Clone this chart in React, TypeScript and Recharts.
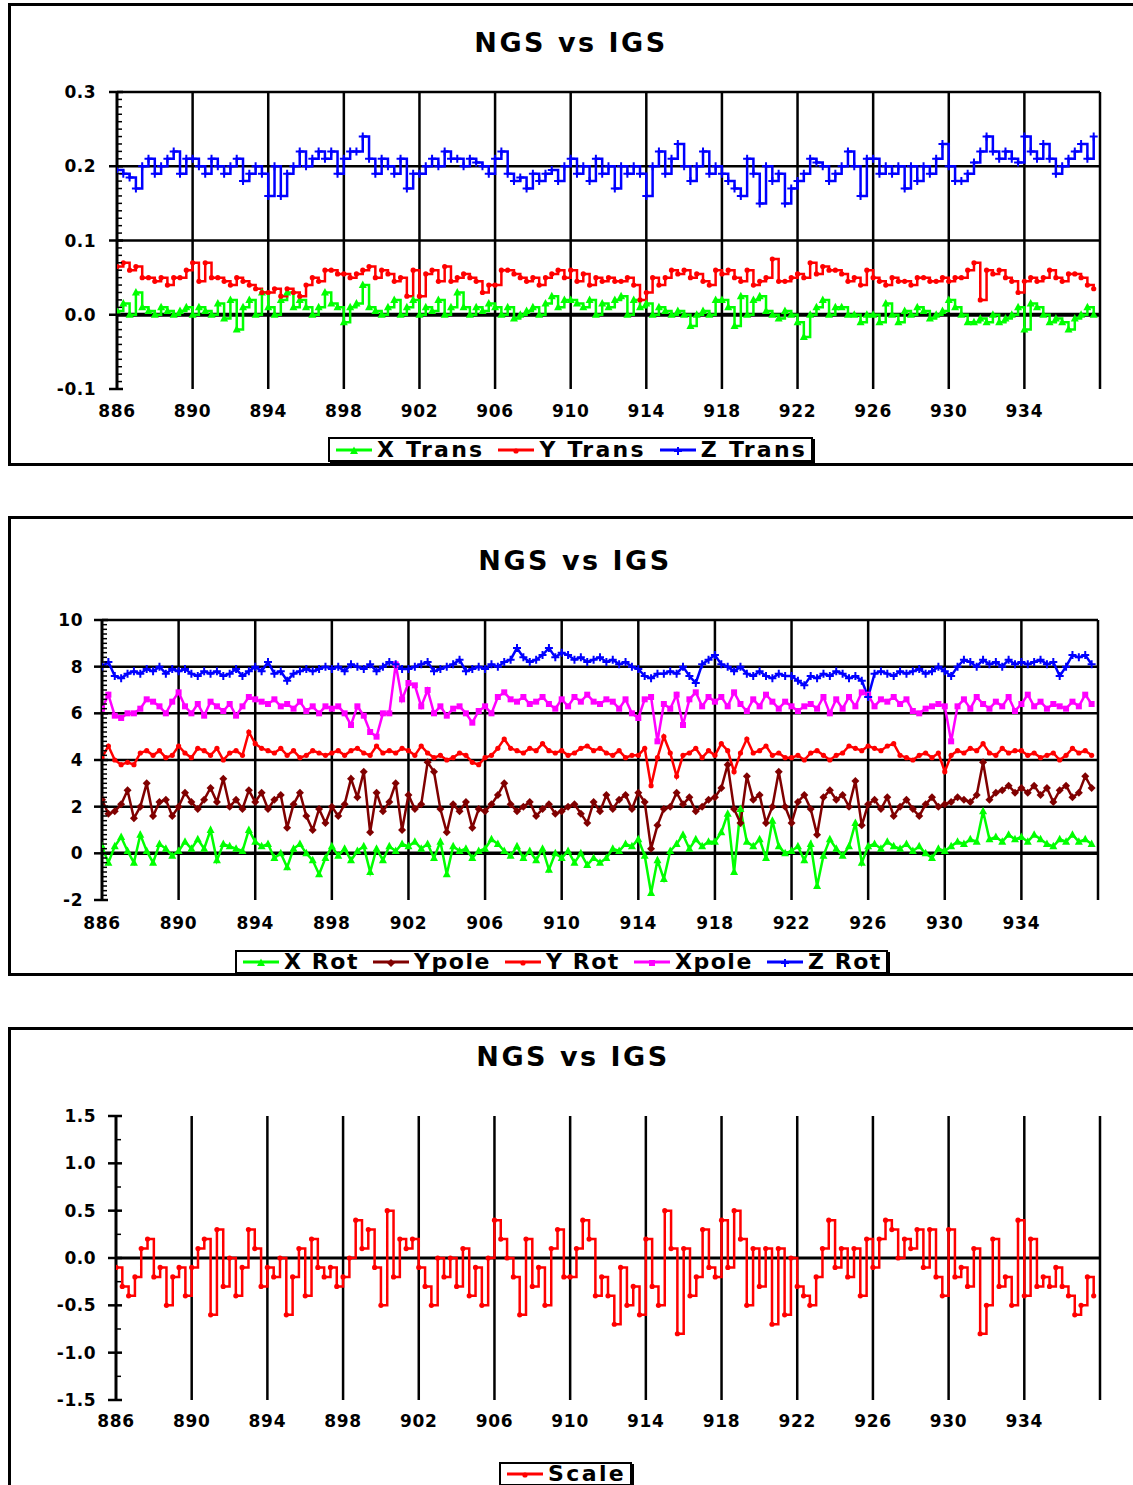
import React from 'react';
import { LineChart, Line, XAxis, YAxis, CartesianGrid, ReferenceLine } from 'recharts';

const FONT = '"DejaVu Sans", Verdana, sans-serif';

// ---------- Panel 1: translations (m) ----------
const xTrans = [
  0.005, 0.015, 0.0, 0.03, 0.01, 0.005, 0.0, 0.01, 0.005, 0.0, 0.005, 0.01,
  0.0, 0.01, 0.005, 0.0, 0.015, -0.005, 0.02, -0.02, 0.01, 0.02, 0.0, 0.03,
  0.01, 0.0, 0.02, 0.03, 0.01, 0.02, 0.01, 0.0, 0.01, 0.03, 0.015, 0.01,
  -0.01, 0.01, 0.015, 0.04, 0.01, 0.005, 0.0, 0.01, 0.02, 0.0, 0.01, 0.02,
  0.0, 0.01, 0.005, 0.02, 0.0, 0.01, 0.03, 0.01, 0.0, 0.01, 0.005, 0.015,
  0.01, 0.0, 0.01, -0.005, 0.0, 0.005, 0.01, 0.0, 0.015, 0.025, 0.01, 0.02,
  0.02, 0.015, 0.01, 0.02, 0.0, 0.015, 0.01, 0.02, 0.025, 0.0, 0.02, 0.01,
  0.015, 0.0, 0.01, 0.005, 0.0, 0.005, 0.0, -0.015, 0.0, 0.005, 0.0, 0.02,
  0.02, 0.01, -0.015, 0.025, 0.0, 0.02, 0.025, 0.005, 0.0, -0.005, 0.005, 0.0,
  -0.01, -0.03, 0.0, 0.01, 0.02, 0.0, 0.01, 0.01, 0.0, 0.0, -0.01, 0.0,
  0.0, -0.01, 0.015, 0.0, -0.01, 0.005, 0.0, 0.01, 0.005, -0.005, 0.0, 0.005,
  0.02, 0.01, 0.0, -0.01, -0.01, -0.005, -0.01, 0.0, -0.01, -0.005, 0.0, 0.01,
  -0.02, 0.015, 0.01, 0.0, -0.01, -0.005, -0.01, -0.02, -0.005, 0.0, 0.01, 0.0,
];
const yTrans = [
  0.065, 0.07, 0.06, 0.065, 0.05, 0.05, 0.045, 0.05, 0.04, 0.05, 0.05, 0.06,
  0.07, 0.045, 0.07, 0.05, 0.05, 0.045, 0.04, 0.05, 0.045, 0.04, 0.035, 0.03,
  0.03, 0.035, 0.025, 0.035, 0.03, 0.025, 0.04, 0.05, 0.045, 0.06, 0.06, 0.055,
  0.055, 0.05, 0.055, 0.06, 0.065, 0.05, 0.06, 0.055, 0.045, 0.05, 0.025, 0.06,
  0.025, 0.055, 0.06, 0.045, 0.065, 0.045, 0.05, 0.055, 0.05, 0.045, 0.03, 0.04,
  0.04, 0.06, 0.06, 0.055, 0.05, 0.045, 0.05, 0.04, 0.05, 0.055, 0.06, 0.05,
  0.06, 0.045, 0.055, 0.04, 0.05, 0.045, 0.05, 0.045, 0.045, 0.05, 0.04, 0.02,
  0.03, 0.05, 0.04, 0.05, 0.06, 0.055, 0.06, 0.05, 0.055, 0.045, 0.04, 0.06,
  0.055, 0.06, 0.05, 0.045, 0.06, 0.04, 0.045, 0.05, 0.075, 0.045, 0.045, 0.05,
  0.055, 0.05, 0.07, 0.055, 0.065, 0.06, 0.06, 0.055, 0.045, 0.05, 0.04, 0.06,
  0.05, 0.045, 0.04, 0.05, 0.045, 0.045, 0.04, 0.05, 0.05, 0.045, 0.045, 0.05,
  0.045, 0.05, 0.05, 0.06, 0.07, 0.02, 0.06, 0.055, 0.06, 0.05, 0.045, 0.03,
  0.045, 0.05, 0.045, 0.05, 0.06, 0.05, 0.045, 0.055, 0.055, 0.05, 0.04, 0.035,
];
const zTrans = [
  0.195, 0.19, 0.185, 0.17, 0.20, 0.21, 0.19, 0.20, 0.21, 0.22, 0.19, 0.21,
  0.21, 0.20, 0.19, 0.21, 0.20, 0.19, 0.20, 0.21, 0.18, 0.19, 0.20, 0.19,
  0.16, 0.20, 0.16, 0.19, 0.20, 0.22, 0.20, 0.21, 0.22, 0.21, 0.22, 0.19,
  0.21, 0.22, 0.22, 0.24, 0.21, 0.19, 0.21, 0.20, 0.19, 0.21, 0.17, 0.19,
  0.19, 0.20, 0.21, 0.20, 0.22, 0.21, 0.21, 0.20, 0.21, 0.205, 0.20, 0.19,
  0.21, 0.22, 0.19, 0.18, 0.185, 0.17, 0.19, 0.18, 0.19, 0.195, 0.18, 0.20,
  0.21, 0.19, 0.20, 0.18, 0.21, 0.19, 0.20, 0.17, 0.20, 0.19, 0.20, 0.19,
  0.16, 0.20, 0.22, 0.19, 0.21, 0.23, 0.20, 0.18, 0.20, 0.22, 0.19, 0.20,
  0.19, 0.18, 0.17, 0.16, 0.21, 0.19, 0.15, 0.20, 0.18, 0.19, 0.15, 0.17,
  0.18, 0.19, 0.21, 0.205, 0.20, 0.18, 0.19, 0.20, 0.22, 0.20, 0.16, 0.21,
  0.21, 0.19, 0.20, 0.19, 0.20, 0.17, 0.20, 0.18, 0.20, 0.19, 0.21, 0.23,
  0.20, 0.18, 0.18, 0.19, 0.205, 0.22, 0.24, 0.22, 0.21, 0.22, 0.21, 0.205,
  0.24, 0.22, 0.21, 0.23, 0.21, 0.19, 0.20, 0.21, 0.22, 0.23, 0.21, 0.24,
];

// ---------- Panel 2: rotations / pole ----------
const xRot = [
  0.3, -0.4, 0.3, 0.7, 0.1, -0.4, 0.8, 0.1, -0.4, 0.4, 0.2, -0.1,
  0.1, 0.5, 0.2, 0.6, 0.2, 1.0, -0.3, 0.4, 0.3, 0.2, 0.1, 1.0,
  0.5, 0.3, 0.4, -0.2, 0.0, -0.6, 0.2, 0.4, 0.0, -0.3, -0.9, -0.2,
  0.3, -0.1, 0.2, -0.3, 0.1, 0.3, -0.8, 0.2, -0.3, 0.3, 0.1, 0.4,
  0.3, 0.5, 0.2, 0.4, -0.2, 0.5, -0.9, 0.3, 0.1, 0.2, -0.2, 0.1,
  0.2, 0.6, 0.4, 0.1, -0.1, 0.3, -0.2, 0.1, -0.3, 0.2, -0.7, 0.0,
  -0.2, 0.1, -0.4, 0.0, -0.5, -0.2, -0.4, -0.2, 0.2, 0.1, 0.4, 0.3,
  0.6, -0.1, -1.7, -0.3, -1.1, 0.1, 0.4, 0.8, 0.2, 0.6, 0.3, 0.5,
  0.5, 0.9, 1.7, -0.8, 1.9, 0.5, 0.3, 0.6, -0.2, 1.4, 0.3, 0.0,
  0.1, 0.3, -0.3, 0.4, -1.4, -0.1, 0.6, 0.2, -0.1, 0.3, 1.3, -0.4,
  0.3, 0.4, 0.2, 0.5, 0.3, 0.2, 0.4, 0.1, 0.3, 0.0, -0.2, 0.2,
  0.1, 0.3, 0.5, 0.4, 0.6, 0.5, 1.8, 0.6, 0.7, 0.5, 0.8, 0.6,
  0.7, 0.5, 0.8, 0.6, 0.4, 0.3, 0.6, 0.5, 0.8, 0.5, 0.6, 0.4,
];
const yPole = [
  2.3, 1.7, 1.8, 2.1, 2.7, 1.5, 2.0, 3.0, 1.6, 2.2, 2.3, 1.6,
  2.0, 2.6, 2.2, 1.9, 2.3, 2.8, 2.2, 3.2, 2.0, 2.3, 1.9, 2.7,
  2.2, 2.6, 1.9, 2.3, 2.5, 1.1, 2.1, 2.6, 1.6, 1.0, 1.9, 1.3,
  2.0, 1.6, 2.1, 3.2, 2.4, 3.5, 0.9, 2.6, 1.8, 2.2, 3.0, 1.0,
  2.5, 1.9, 2.1, 3.9, 3.5, 1.9, 0.9, 2.1, 1.8, 2.2, 1.1, 1.9,
  1.8, 2.1, 2.5, 3.0, 2.1, 1.8, 2.0, 2.2, 1.6, 1.9, 2.1, 1.7,
  1.8, 2.0, 2.1, 1.7, 1.3, 2.2, 1.8, 2.5, 1.9, 2.3, 2.5, 1.9,
  2.6, 2.2, 0.2, 1.2, 1.9, 2.0, 2.6, 2.1, 2.4, 1.8, 2.0, 2.3,
  2.4, 2.8, 3.8, 1.9, 1.3, 3.3, 2.3, 2.5, 1.3, 2.0, 3.5, 2.0,
  1.3, 2.2, 2.5, 1.9, 0.8, 2.4, 2.7, 2.3, 2.5, 2.0, 3.1, 1.2,
  2.1, 2.3, 1.9, 2.4, 1.6, 2.0, 2.3, 1.9, 1.6, 2.1, 2.4, 2.0,
  2.1, 2.2, 2.4, 2.3, 2.2, 2.5, 3.9, 2.3, 2.6, 2.7, 2.9, 2.6,
  2.8, 2.6, 2.9, 2.5, 2.8, 2.2, 2.7, 2.9, 2.4, 2.6, 3.3, 2.8,
];
const yRot = [
  4.1, 4.6, 4.0, 3.8, 3.9, 3.8, 4.3, 4.4, 4.2, 4.4, 4.1, 4.2,
  4.6, 4.3, 4.1, 4.5, 4.4, 4.2, 4.5, 4.0, 4.3, 4.4, 4.2, 5.2,
  4.7, 4.5, 4.4, 4.3, 4.5, 4.2, 4.4, 4.1, 4.2, 4.4, 4.3, 4.2,
  4.3, 4.4, 4.2, 4.4, 4.5, 4.3, 4.2, 4.6, 4.3, 4.4, 4.3, 4.5,
  4.4, 4.2, 4.6, 4.3, 4.1, 4.2, 4.0, 4.1, 4.3, 4.2, 3.9, 3.8,
  4.1, 4.2, 4.5, 4.9, 4.5, 4.4, 4.3, 4.5, 4.4, 4.7, 4.4, 4.3,
  4.4, 4.2, 4.3, 4.5, 4.6, 4.4, 4.5, 4.3, 4.2, 4.4, 4.1, 4.2,
  4.2, 4.5, 2.9, 4.1, 5.0, 4.3, 3.3, 4.2, 4.3, 4.5, 4.1, 4.4,
  4.2, 4.7, 4.4, 3.5, 4.3, 4.9, 4.3, 4.4, 4.6, 4.2, 4.3, 4.1,
  4.1, 4.2, 4.0, 4.3, 4.4, 4.2, 4.0, 4.2, 4.3, 4.6, 4.5, 4.4,
  4.6, 4.5, 4.4, 4.6, 4.7, 4.2, 4.1, 4.0, 4.2, 4.3, 4.1, 4.3,
  3.5, 4.2, 4.4, 4.3, 4.5, 4.4, 4.7, 4.3, 4.2, 4.5, 4.3, 4.4,
  4.4, 4.2, 4.3, 4.1, 4.2, 4.3, 4.0, 4.2, 4.5, 4.3, 4.4, 4.2,
];
const xPole = [
  6.2, 6.8, 5.9, 5.8, 6.0, 6.0, 6.2, 6.6, 6.5, 6.3, 6.0, 6.5,
  6.9, 6.3, 6.0, 6.4, 5.9, 6.5, 6.3, 6.1, 6.4, 5.9, 6.3, 6.7,
  6.6, 6.5, 6.4, 6.6, 6.3, 6.4, 6.2, 6.5, 6.1, 6.3, 6.0, 6.3,
  6.2, 6.3, 6.0, 5.5, 6.3, 5.9, 5.2, 5.0, 6.0, 6.0, 8.1, 6.6,
  7.3, 7.2, 6.3, 7.0, 6.0, 6.3, 5.9, 6.2, 6.3, 6.0, 5.6, 6.1,
  6.3, 6.0, 6.7, 6.9, 6.6, 6.5, 6.7, 6.4, 6.5, 6.7, 6.4, 6.2,
  6.6, 6.3, 6.7, 6.5, 6.8, 6.5, 6.4, 6.6, 6.5, 6.2, 6.6, 6.0,
  5.8, 6.6, 6.7, 4.8, 6.4, 6.2, 6.8, 5.5, 6.6, 6.9, 6.3, 6.7,
  6.5, 6.7, 6.3, 6.9, 6.4, 6.1, 6.6, 6.3, 6.8, 6.5, 6.2, 6.5,
  6.3, 6.1, 6.3, 6.4, 6.2, 6.7, 6.0, 6.6, 6.2, 6.7, 6.3, 6.9,
  6.8, 6.3, 6.6, 6.5, 6.7, 6.4, 6.6, 6.1, 6.0, 6.2, 6.3, 6.4,
  6.3, 4.8, 6.3, 6.6, 6.2, 6.7, 6.4, 6.2, 6.5, 6.3, 6.7, 6.1,
  6.4, 6.8, 6.3, 6.5, 6.2, 6.4, 6.3, 6.2, 6.5, 6.3, 6.8, 6.4,
];
const zRot = [
  8.0, 8.2, 7.6, 7.5, 7.7, 7.8, 7.7, 7.9, 7.8, 8.0, 7.7, 7.9,
  7.8, 7.9, 7.7, 7.6, 7.8, 7.7, 7.8, 7.6, 7.7, 7.9, 7.6, 7.8,
  8.0, 7.8, 8.2, 7.7, 7.8, 7.4, 7.7, 7.8, 7.9, 7.8, 7.9, 8.0,
  7.9, 8.0, 7.8, 8.1, 8.0, 7.9, 8.1, 7.8, 8.0, 8.2, 8.1, 7.9,
  7.9, 8.0, 8.1, 8.2, 7.8, 7.9, 8.0, 8.1, 8.3, 7.8, 7.9, 8.0,
  7.9, 8.1, 8.0, 8.2, 8.3, 8.8, 8.4, 8.2, 8.3, 8.5, 8.8, 8.4,
  8.6, 8.5, 8.3, 8.4, 8.2, 8.3, 8.4, 8.2, 8.3, 8.1, 8.2, 8.0,
  7.9, 7.6, 7.5, 7.7, 7.7, 7.8, 7.7, 8.0, 7.6, 7.3, 8.1, 8.3,
  8.5, 8.1, 8.0, 7.8, 8.0, 7.7, 7.6, 7.8, 7.6, 7.5, 7.7, 7.6,
  7.6, 7.4, 7.2, 7.6, 7.5, 7.7, 7.6, 7.8, 7.7, 7.5, 7.6, 7.4,
  6.7, 7.7, 7.8, 7.7, 7.6, 7.8, 7.7, 7.8, 7.9, 7.7, 7.8, 8.0,
  7.8, 7.6, 8.0, 8.3, 8.2, 8.0, 8.3, 8.1, 8.2, 8.0, 8.3, 8.1,
  8.2, 8.1, 8.2, 8.3, 8.1, 8.2, 7.6, 8.0, 8.5, 8.4, 8.5, 8.1,
];

// ---------- Panel 3: scale ----------
const scale = [
  -0.1, -0.3, -0.4, -0.2, 0.1, 0.2, -0.2, -0.1, -0.5, -0.2, -0.1, -0.4,
  -0.1, 0.1, 0.2, -0.6, 0.3, -0.3, 0.0, -0.4, -0.1, 0.3, 0.1, -0.3,
  -0.1, -0.2, 0.0, -0.6, -0.2, 0.1, -0.4, 0.2, -0.1, -0.2, -0.1, -0.3,
  -0.2, 0.0, 0.4, 0.1, 0.3, -0.1, -0.5, 0.5, -0.2, 0.2, 0.1, 0.2,
  -0.1, -0.3, -0.5, 0.0, -0.2, 0.0, -0.3, 0.1, -0.4, -0.1, -0.5, 0.0,
  0.4, 0.2, 0.0, -0.2, -0.6, 0.2, -0.3, -0.1, -0.5, 0.1, 0.3, -0.2,
  -0.2, 0.1, 0.4, 0.2, -0.4, -0.2, -0.4, -0.7, -0.1, -0.5, -0.3, -0.6,
  0.2, -0.3, -0.5, 0.5, 0.1, -0.8, 0.1, -0.4, -0.2, 0.3, -0.1, -0.2,
  0.4, -0.1, 0.5, 0.2, -0.5, 0.1, -0.3, 0.1, -0.7, 0.1, -0.6, 0.0,
  -0.3, -0.4, -0.5, -0.2, 0.1, 0.4, -0.1, 0.1, -0.2, 0.1, -0.4, 0.2,
  -0.1, 0.2, 0.4, 0.3, 0.0, 0.2, 0.1, 0.3, -0.1, 0.3, -0.2, -0.4,
  0.3, -0.2, -0.1, -0.3, 0.1, -0.8, -0.5, 0.2, -0.3, -0.2, -0.5, 0.4,
  -0.4, 0.2, -0.3, -0.2, -0.3, -0.1, -0.3, -0.4, -0.6, -0.5, -0.2, -0.4,
];

// GPS week of each sample (three samples per week)
const weeks = scale.map((_, i) => 886 + i / 3);

// ---------- axes ----------
const xTicks = [886, 890, 894, 898, 902, 906, 910, 914, 918, 922, 926, 930, 934, 938];
const xLabelMax = 934;
const xGrid = [890, 894, 898, 902, 906, 910, 914, 918, 922, 926, 930, 934, 938];

const p1Major = [-0.1, 0.0, 0.1, 0.2, 0.3];
const p1Grid = [0.1, 0.2, 0.3];
const p2Major = [-2, 0, 2, 4, 6, 8, 10];
const p2Grid = [2, 4, 6, 8, 10];
const p3Major = [-1.5, -1.0, -0.5, 0.0, 0.5, 1.0, 1.5];

const minorTicks = (lo: number, hi: number, step: number) => {
  const out: number[] = [];
  const n = Math.round((hi - lo) / step);
  for (let i = 0; i <= n; i++) out.push(Math.round((lo + i * step) * 1e6) / 1e6);
  return out;
};
const p1Ticks = minorTicks(-0.1, 0.3, 0.01);
const p2Ticks = minorTicks(-2, 10, 0.2);
const p3Ticks = minorTicks(-1.5, 1.5, 0.25);

const panel1Rows = weeks.map((wk, i) => ({ wk, xTrans: xTrans[i], yTrans: yTrans[i], zTrans: zTrans[i] }));
const panel2Rows = weeks.map((wk, i) => ({ wk, xRot: xRot[i], yPole: yPole[i], yRot: yRot[i], xPole: xPole[i], zRot: zRot[i] }));
const panel3Rows = weeks.map((wk, i) => ({ wk, scale: scale[i] }));

type Shape = 'tri' | 'circle' | 'plus' | 'diamond' | 'square';
type Series = { key: string; name: string; color: string; shape: Shape };

const panel1Series: Series[] = [
  { key: 'xTrans', name: 'X Trans', color: '#00FF00', shape: 'tri' },
  { key: 'yTrans', name: 'Y Trans', color: '#FF0000', shape: 'circle' },
  { key: 'zTrans', name: 'Z Trans', color: '#0000FF', shape: 'plus' },
];
const panel2Series: Series[] = [
  { key: 'xRot', name: 'X Rot', color: '#00FF00', shape: 'tri' },
  { key: 'yPole', name: 'Ypole', color: '#800000', shape: 'diamond' },
  { key: 'yRot', name: 'Y Rot', color: '#FF0000', shape: 'circle' },
  { key: 'xPole', name: 'Xpole', color: '#FF00FF', shape: 'square' },
  { key: 'zRot', name: 'Z Rot', color: '#0000FF', shape: 'plus' },
];
const panel3Series: Series[] = [
  { key: 'scale', name: 'Scale', color: '#FF0000', shape: 'circle' },
];

function marker(shape: Shape, color: string, cx: number, cy: number, key?: string) {
  switch (shape) {
    case 'tri':
      return <path key={key} d={`M${cx},${cy - 4.5}L${cx + 4},${cy + 3}L${cx - 4},${cy + 3}Z`} fill={color} />;
    case 'circle':
      return <circle key={key} cx={cx} cy={cy} r={2.6} fill={color} />;
    case 'plus':
      return <path key={key} d={`M${cx - 4},${cy}H${cx + 4}M${cx},${cy - 4}V${cy + 4}`} stroke={color} strokeWidth={2} fill="none" />;
    case 'diamond':
      return <path key={key} d={`M${cx},${cy - 4}L${cx + 4},${cy}L${cx},${cy + 4}L${cx - 4},${cy}Z`} fill={color} />;
    case 'square':
    default:
      return <rect key={key} x={cx - 3} y={cy - 3} width={6} height={6} fill={color} />;
  }
}

const makeDot = (shape: Shape, color: string) => (p: any) => {
  const k = `dot-${p.index}`;
  if (typeof p.cx !== 'number' || typeof p.cy !== 'number' || isNaN(p.cy)) return <g key={k} />;
  return marker(shape, color, p.cx, p.cy, k);
};

const makeYTick = (majors: number[], gap: number, fmt: (v: number) => string) => (props: any) => {
  const { x, y, payload } = props;
  const v = payload.value as number;
  const isMajor = majors.some((m) => Math.abs(m - v) < 1e-6);
  if (isMajor) {
    return (
      <g>
        <line x1={x - 8} x2={x + 6} y1={y} y2={y} stroke="#000" strokeWidth={2.5} />
        <text x={x - gap} y={y + 6} textAnchor="end" fontFamily={FONT} fontWeight="bold" fontSize={17} letterSpacing={0.5} fill="#000">
          {fmt(v)}
        </text>
      </g>
    );
  }
  return <line x1={x} x2={x + 5} y1={y} y2={y} stroke="#000" strokeWidth={1.5} />;
};

const makeXTick = (dy: number) => (props: any) => {
  const { x, y, payload } = props;
  if (payload.value > xLabelMax) return <g />;
  return (
    <text x={x} y={y + dy} textAnchor="middle" fontFamily={FONT} fontWeight="bold" fontSize={17} letterSpacing={0.7} fill="#000">
      {payload.value}
    </text>
  );
};

type PanelProps = {
  top: number;
  chartHeight: number;
  margin: { top: number; right: number; bottom: number; left: number };
  rows: any[];
  series: Series[];
  domain: [number, number];
  ticks: number[];
  majors: number[];
  fmt: (v: number) => string;
  gap: number;
  xdy: number;
  hGrid: number[];
  zeroWidth: number;
  step: boolean;
};

function PanelChart(p: PanelProps) {
  return (
    <div style={{ position: 'absolute', left: 8, top: p.top }}>
      <LineChart width={1125} height={p.chartHeight} data={p.rows} margin={p.margin}>
        <CartesianGrid
          stroke="#000"
          strokeWidth={2.5}
          horizontal={p.hGrid.length > 0}
          horizontalValues={p.hGrid}
          verticalValues={xGrid}
          fill="none"
        />
        <ReferenceLine y={0} stroke="#000" strokeWidth={p.zeroWidth} ifOverflow="hidden" />
        <XAxis
          dataKey="wk"
          type="number"
          domain={[886, 938]}
          allowDataOverflow
          ticks={xTicks}
          interval={0}
          axisLine={false}
          tickLine={false}
          tickSize={0}
          tickMargin={0}
          height={30}
          tick={makeXTick(p.xdy)}
        />
        <YAxis
          type="number"
          domain={p.domain}
          allowDataOverflow
          ticks={p.ticks}
          interval={0}
          width={80}
          axisLine={{ stroke: '#000', strokeWidth: 3 }}
          tickLine={false}
          tickSize={0}
          tickMargin={0}
          tick={makeYTick(p.majors, p.gap, p.fmt)}
        />
        {p.series.map((s) => (
          <Line
            key={s.key}
            name={s.name}
            dataKey={s.key}
            type={p.step ? 'stepAfter' : 'linear'}
            stroke={s.color}
            strokeWidth={2.5}
            dot={makeDot(s.shape, s.color)}
            activeDot={false}
            isAnimationActive={false}
          />
        ))}
      </LineChart>
    </div>
  );
}

function Legend({ series, left, top, height, spacing, gap }: { series: Series[]; left: number; top: number; height: number; spacing: number; gap: number }) {
  return (
    <div
      style={{
        position: 'absolute',
        left,
        top,
        height,
        boxSizing: 'border-box',
        border: '2px solid #000',
        boxShadow: '2px 2px 0 #000',
        background: '#fff',
        display: 'flex',
        alignItems: 'center',
        padding: '0 4px 0 6px',
        whiteSpace: 'nowrap',
      }}
    >
      {series.map((s, i) => (
        <div key={s.key} style={{ display: 'flex', alignItems: 'center', marginLeft: i === 0 ? 0 : gap }}>
          <svg width={36} height={18} style={{ display: 'block' }}>
            <line x1={0} x2={36} y1={9} y2={9} stroke={s.color} strokeWidth={3} />
            {marker(s.shape, s.color, 18, 10)}
          </svg>
          <span
            style={{
              marginLeft: 5,
              fontFamily: FONT,
              fontWeight: 'bold',
              fontSize: 22,
              lineHeight: '20px',
              letterSpacing: spacing,
              color: '#000',
            }}
          >
            {s.name}
          </span>
        </div>
      ))}
    </div>
  );
}

function Title({ cx, top }: { cx: number; top: number }) {
  return (
    <div
      style={{
        position: 'absolute',
        left: cx - 300,
        width: 600,
        top,
        textAlign: 'center',
        fontFamily: FONT,
        fontWeight: 'bold',
        fontSize: 27,
        lineHeight: '27px',
        letterSpacing: 2.5,
        color: '#000',
      }}
    >
      NGS vs IGS
    </div>
  );
}

const boxStyle = (top: number, height: number): React.CSSProperties => ({
  position: 'absolute',
  left: 8,
  top,
  width: 1160,
  height,
  boxSizing: 'border-box',
  borderLeft: '3px solid #000',
  borderTop: '3px solid #000',
  borderBottom: '3px solid #000',
});

export default function App() {
  return (
    <div style={{ position: 'fixed', left: 0, top: 0, width: 1133, height: 1485, overflow: 'hidden', background: '#fff' }}>
      <div style={boxStyle(3, 463)} />
      <div style={boxStyle(516, 460)} />
      <div style={boxStyle(1027, 480)} />

      <Title cx={571} top={29} />
      <Title cx={575} top={547} />
      <Title cx={573} top={1043} />

      <PanelChart
        top={3}
        chartHeight={440}
        margin={{ top: 89, right: 33, bottom: 24, left: 29 }}
        rows={panel1Rows}
        series={panel1Series}
        domain={[-0.1, 0.3]}
        ticks={p1Ticks}
        majors={p1Major}
        fmt={(v) => v.toFixed(1)}
        gap={21}
        xdy={28}
        hGrid={p1Grid}
        zeroWidth={4}
        step
      />
      <PanelChart
        top={516}
        chartHeight={440}
        margin={{ top: 104, right: 35, bottom: 26, left: 14 }}
        rows={panel2Rows}
        series={panel2Series}
        domain={[-2, 10]}
        ticks={p2Ticks}
        majors={p2Major}
        fmt={(v) => String(v)}
        gap={19}
        xdy={29}
        hGrid={p2Grid}
        zeroWidth={3.5}
        step={false}
      />
      <PanelChart
        top={1027}
        chartHeight={430}
        margin={{ top: 89, right: 33, bottom: 27, left: 28 }}
        rows={panel3Rows}
        series={panel3Series}
        domain={[-1.5, 1.5]}
        ticks={p3Ticks}
        majors={p3Major}
        fmt={(v) => v.toFixed(1)}
        gap={20}
        xdy={27}
        hGrid={[]}
        zeroWidth={3}
        step
      />

      <Legend series={panel1Series} left={328} top={437} height={25} spacing={2.25} gap={14} />
      <Legend series={panel2Series} left={235} top={950} height={24} spacing={1.55} gap={14} />
      <Legend series={panel3Series} left={499} top={1462} height={24} spacing={2.4} gap={14} />
    </div>
  );
}
